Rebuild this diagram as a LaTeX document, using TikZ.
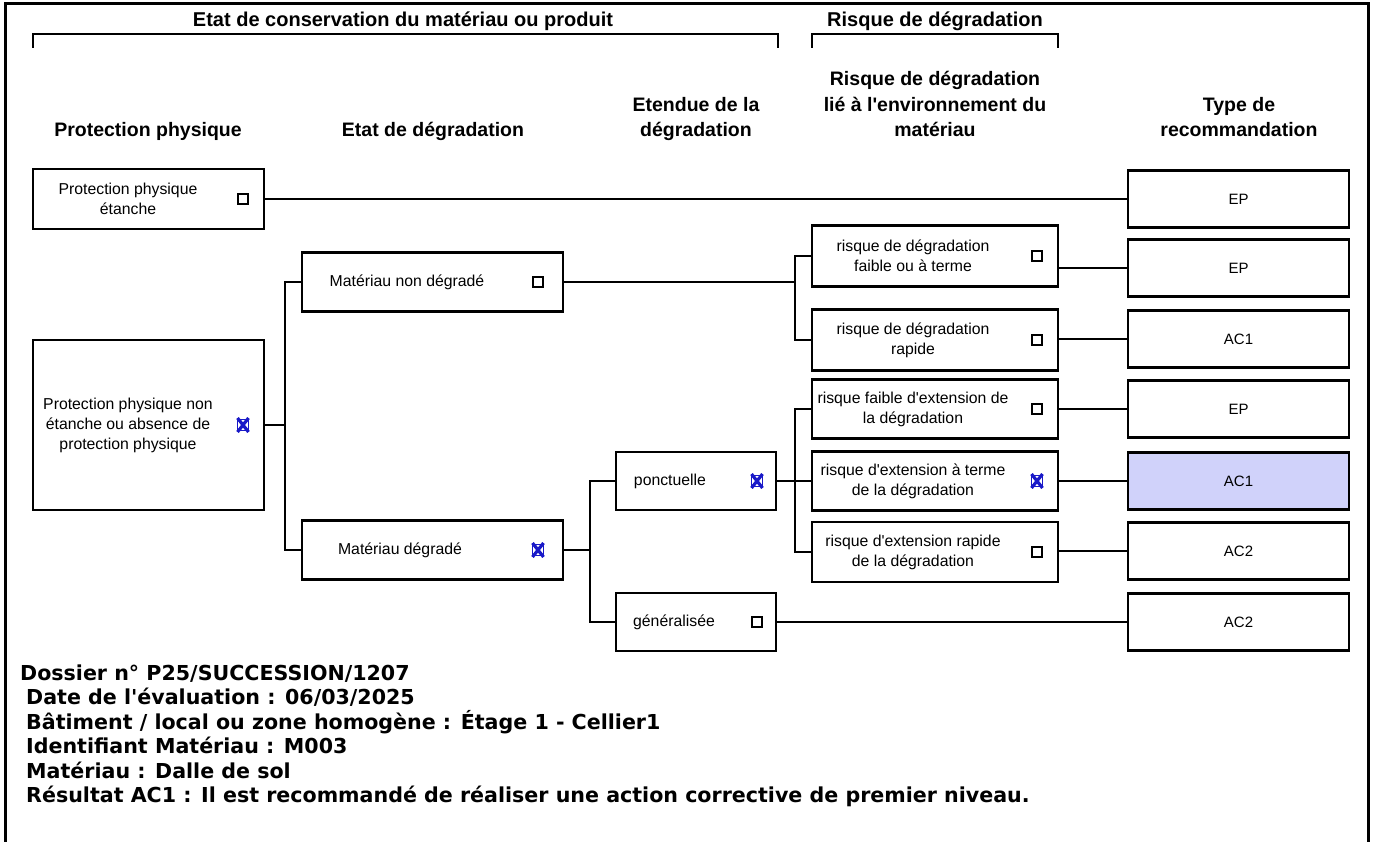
\documentclass[tikz,border=0pt]{standalone}
\usepackage{fontspec}
\setmainfont{Liberation Sans}
\newfontfamily\infofont{DejaVu Sans}
\usetikzlibrary{positioning}
\definecolor{crossblue}{RGB}{25,25,200}
\definecolor{resultfill}{RGB}{208,210,250}

\begin{document}
\begin{tikzpicture}[
  x=1pt, y=-1pt,
  box/.style={draw, line width=2.2pt, inner sep=0pt},
  riskbox/.style={box, minimum width=246, minimum height=59},
  typebox/.style={box, minimum width=221, minimum height=57, font=\fontsize{15}{18}\selectfont},
  boxtxt/.style={align=center, inner sep=0pt, font=\fontsize{15.8}{20}\selectfont},
  chk/.style={draw, line width=1.3pt, minimum size=10, inner sep=0pt},
  xchk/.style={minimum size=18, inner sep=0pt, path picture={
      \draw[crossblue, line width=1.5pt, shift={(path picture bounding box.center)}] (-5.5,-5.5) rectangle (5.5,5.5);
      \draw[crossblue, line width=3.2pt, shift={(path picture bounding box.center)}]
        (-5.5,-7) -- (5.5,7) (-5.5,7) -- (5.5,-7);}},
  head/.style={align=center, anchor=base, inner sep=0pt, font=\bfseries\fontsize{19.5}{25.5}\selectfont},
  link/.style={line width=2pt},
  info/.style={anchor=base west, inner sep=0pt, font=\infofont\bfseries\fontsize{20.6}{24}\selectfont}
]
\useasboundingbox (0,0) rectangle (1376,842);
\draw[line width=3pt] (5,850) -- (5,4) -- (1368,4) -- (1368,850);

\node[head, font=\bfseries\fontsize{20}{25}\selectfont] (conserv) at (403,27) {Etat de conservation du matériau ou produit};
\node[head, font=\bfseries\fontsize{20}{25}\selectfont] (risque) at (935,27) {Risque de dégradation};
\draw[link] (33,48) |- (778,34) -- (778,48);
\draw[link] (812,48) |- (1058,34) -- (1058,48);

\node[head] (h1) at (148,137) {Protection physique};
\node[head] (h2) at (433,137) {Etat de dégradation};
\node[head] (h3) at (696,137) {Etendue de la\\dégradation};
\node[head] (h4) at (935,137) {Risque de dégradation\\lié à l\textquotesingle environnement du\\matériau};
\node[head] (h5) at (1239,137) {Type de\\recommandation};

% protection physique
\node[box, minimum width=231, minimum height=60] (ppe) at (148.5,199) {};
\node[boxtxt] at (128,199) {Protection physique\\étanche};
\node[chk] at (243,199) {};
\node[box, minimum width=231, minimum height=170] (ppn) at (148.5,425) {};
\node[boxtxt] at (128,425) {Protection physique non\\étanche ou absence de\\protection physique};
\node[xchk] at (243,425) {};

% etat de degradation
\node[box, minimum width=261, minimum height=59] (mnd) at (432.5,282) {};
\node[boxtxt] at (407,282) {Matériau non dégradé};
\node[chk] at (538,282) {};
\node[box, minimum width=261, minimum height=59] (md) at (432.5,550) {};
\node[boxtxt] at (400,550) {Matériau dégradé};
\node[xchk] at (538,550) {};

% etendue
\node[box, minimum width=160, minimum height=58] (pon) at (696,481) {};
\node[boxtxt] at (670,481) {ponctuelle};
\node[xchk] at (757,481) {};
\node[box, minimum width=160, minimum height=58] (gen) at (696,622) {};
\node[boxtxt] at (674,622) {généralisée};
\node[chk] at (757,622) {};

% risque
\node[riskbox, minimum height=61] (r1) at (935,256) {};
\node[boxtxt] at (913,256) {risque de dégradation\\faible ou à terme};
\node[chk] at (1037,256) {};
\node[riskbox, minimum height=61] (r2) at (935,340) {};
\node[boxtxt] at (913,340) {risque de dégradation\\rapide};
\node[chk] at (1037,340) {};
\node[riskbox] (r3) at (935,409) {};
\node[boxtxt] at (913,409) {risque faible d\textquotesingle extension de\\la dégradation};
\node[chk] at (1037,409) {};
\node[riskbox] (r4) at (935,481) {};
\node[boxtxt] at (913,481) {risque d\textquotesingle extension à terme\\de la dégradation};
\node[xchk] at (1037,481) {};
\node[riskbox, minimum height=60] (r5) at (935,552) {};
\node[boxtxt] at (913,552) {risque d\textquotesingle extension rapide\\de la dégradation};
\node[chk] at (1037,552) {};

% recommandation
\node[typebox] (t0) at (1238.5,199) {EP};
\node[typebox] (t1) at (1238.5,268) {EP};
\node[typebox] (t2) at (1238.5,339) {AC1};
\node[typebox] (t3) at (1238.5,409) {EP};
\node[typebox, fill=resultfill] (t4) at (1238.5,481) {AC1};
\node[typebox] (t5) at (1238.5,551) {AC2};
\node[typebox] (t6) at (1238.5,622) {AC2};

\coordinate (f1) at (285,425);
\coordinate (f2) at (795,282);
\coordinate (f3) at (590,550);
\coordinate (f4) at (795,481);

\draw[link] (ppe.east) -- (t0.west);
\draw[link] (ppn.east) -- (f1);
\draw[link] (mnd.west) -| (f1) |- (md.west);
\draw[link] (mnd.east) -- (f2);
\draw[link] (r1.west) -| (f2) |- (r2.west);
\draw[link] (md.east) -- (f3);
\draw[link] (pon.west) -| (f3) |- (gen.west);
\draw[link] (pon.east) -- (f4) -- (r4.west);
\draw[link] (r3.west) -| (f4) |- (r5.west);
\draw[link] (gen.east) -- (t6.west);
\draw[link] (r1.east |- t1.west) -- (t1.west);
\draw[link] (r2.east |- t2.west) -- (t2.west);
\draw[link] (r3.east |- t3.west) -- (t3.west);
\draw[link] (r4.east |- t4.west) -- (t4.west);
\draw[link] (r5.east |- t5.west) -- (t5.west);

\node[info] (dossier) at (20,680) {Dossier n° P25/SUCCESSION/1207};
\foreach \txt [count=\i] in {Date de l'évaluation : 06/03/2025,
    Bâtiment / local ou zone homogène : Étage 1 - Cellier1,
    Identifiant Matériau : M003,
    Matériau : Dalle de sol,
    Résultat AC1 : Il est recommandé de réaliser une action corrective de premier niveau.}
  \node[info] (info\i) at (26,680+24.5*\i) {\txt};
\end{tikzpicture}
\end{document}
